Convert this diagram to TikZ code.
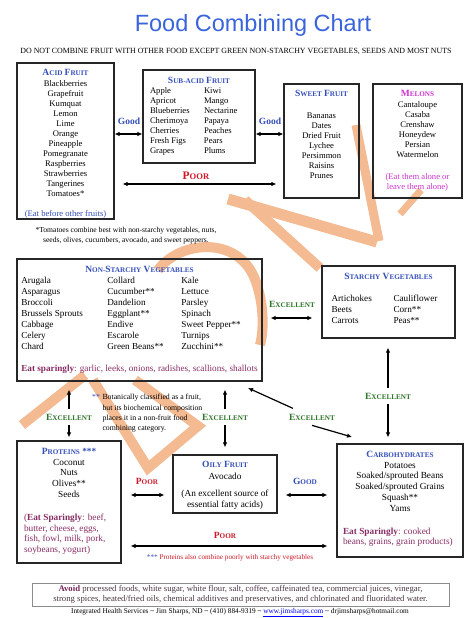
\documentclass[tikz,border=0pt]{standalone}
\usepackage{fontspec}
\setmainfont{Liberation Serif}
\newfontfamily\headfont{Liberation Sans}
\usepackage{xcolor}
\usetikzlibrary{positioning,arrows.meta,calc}

\definecolor{ttlblue}{RGB}{58,100,220}
\definecolor{hdblue}{RGB}{52,78,185}
\definecolor{poorred}{RGB}{205,25,40}
\definecolor{exgreen}{RGB}{45,115,40}
\definecolor{melmag}{RGB}{205,50,205}
\definecolor{eatpurp}{RGB}{135,45,100}
\definecolor{avoidtxt}{RGB}{75,55,65}
\definecolor{wmark}{RGB}{244,186,146}

\newcommand{\smcap}[2]{{\fontsize{9.5}{10}\selectfont #1}{\fontsize{7.2}{10}\selectfont #2}}
\newcommand{\poorcap}[2]{{\fontsize{11.5}{12}\selectfont #1}{\fontsize{8.6}{12}\selectfont #2}}
\newcommand{\boxhead}[1]{{\bfseries\color{hdblue}#1}}

\begin{document}
\begin{tikzpicture}[x=1pt, y=-1pt, every node/.style={inner sep=0pt},
  fbox/.style={draw=black!85, line width=1.1pt, inner sep=0pt},
  ftxt/.style={anchor=north, align=center},
  fruitsz/.style={font=\fontsize{8.6}{10}\selectfont},
  vegsz/.style={font=\fontsize{9.2}{11}\selectfont},
  mainsz/.style={font=\fontsize{9.3}{10.8}\selectfont},
  lbl/.style={font=\bfseries, inner xsep=2pt, inner ysep=5pt},
  goodlbl/.style={lbl, font=\fontsize{9.5}{10}\selectfont\bfseries, text=hdblue},
  exlbl/.style={lbl, text=exgreen},
  poorlbl/.style={lbl, text=poorred},
  dbl/.style={{Latex[length=5pt,width=4.5pt]}-{Latex[length=5pt,width=4.5pt]}, line width=1.2pt},
  tip/.style={-{Latex[length=5pt,width=4.5pt]}, line width=1.2pt},
  wm/.style={draw=wmark, line width=11pt}]

  \fill[white] (0,0) rectangle (474,618);
  \useasboundingbox (0,0) rectangle (474,618);

  % watermark
  \draw[wm] (228,199) -- (377,242);
  \draw[wm, line width=9pt] (356,125) -- (379,241);
  \draw[wm, line width=7pt] (400,214) -- (421,190);
  \draw[wm, line width=10pt] (245,200) -- (320,268);
  \draw[wm, line width=10pt] (158,270) .. controls (180,240) and (240,235) .. (256,282)
    .. controls (264,305) and (264,330) .. (260,345);
  \draw[wm, line width=10pt] (22,425) -- (85,375);
  \draw[wm, line width=10pt] (93,380) -- (148,468) -- (198,426) -- (135,380);

  \node[font=\headfont\fontsize{23.5}{26}\selectfont, text=ttlblue] (title) at (253,25)
    {Food Combining Chart};
  \node[font=\fontsize{7.9}{9}\selectfont] (subtitle) at (236,51)
    {DO NOT COMBINE FRUIT WITH OTHER FOOD EXCEPT GREEN NON-STARCHY VEGETABLES, SEEDS AND MOST NUTS};

  % fruit row
  \node[fbox, minimum width=97pt, minimum height=156pt] (acid) at (65.5,141) {};
  \node[ftxt, fruitsz] (acid-t) at (65.5,68.8)
    {\boxhead{\smcap{A}{CID} \smcap{F}{RUIT}}\\[1pt]
     Blackberries\\Grapefruit\\Kumquat\\Lemon\\Lime\\Orange\\Pineapple\\Pomegranate\\
     Raspberries\\Strawberries\\Tangerines\\Tomatoes*\\[10pt]
     \textcolor{hdblue}{(Eat before other fruits)}};

  \node[fbox, minimum width=112pt, minimum height=93pt] (subacid) at (199,116.5) {};
  \node[ftxt, fruitsz] (subacid-t) at (199,76.8)
    {\boxhead{\smcap{S}{UB-ACID} \smcap{F}{RUIT}}\\
     \begin{tabular}[t]{@{}p{54pt}@{}p{44pt}@{}}
       Apple & Kiwi\\ Apricot & Mango\\ Blueberries & Nectarine\\ Cherimoya & Papaya\\
       Cherries & Peaches\\ Fresh Figs & Pears\\ Grapes & Plums
     \end{tabular}};

  \node[fbox, minimum width=75pt, minimum height=114pt] (sweet) at (321.5,141) {};
  \node[ftxt, fruitsz] (sweet-t) at (321.5,89.8)
    {\boxhead{\smcap{S}{WEET} \smcap{F}{RUIT}}\\[12pt]
     Bananas\\Dates\\Dried Fruit\\Lychee\\Persimmon\\Raisins\\Prunes};

  \node[fbox, minimum width=89pt, minimum height=114pt] (melons) at (417.5,141) {};
  \node[ftxt, fruitsz] (melons-t) at (417.5,89.8)
    {\textcolor{melmag}{\bfseries\smcap{M}{ELONS}}\\[1pt]
     Cantaloupe\\Casaba\\Crenshaw\\Honeydew\\Persian\\Watermelon\\[12pt]
     \textcolor{melmag}{(Eat them alone or}\\\textcolor{melmag}{leave them alone)}};

  \coordinate (rowgood) at (0,134);
  \coordinate (rowpoor) at (0,184);
  \node[goodlbl] (good1) at (129,121) {Good};
  \node[goodlbl] (good2) at (270,121) {Good};
  \node[poorlbl] (poor1) at (196,176) {\poorcap{P}{OOR}};
  \draw[dbl] (acid.east |- rowgood) -- (subacid.west |- rowgood);
  \draw[dbl] (subacid.east |- rowgood) -- (sweet.west |- rowgood);
  \draw[dbl, shorten <=8pt, shorten >=7pt] (acid.east |- rowpoor) -- (sweet.west |- rowpoor);

  \node[font=\fontsize{7.6}{10}\selectfont, align=center] (tomnote) at (126,236)
    {*Tomatoes combine best with non-starchy vegetables, nuts,\\
     seeds, olives, cucumbers, avocado, and sweet peppers.};

  % vegetables
  \node[fbox, minimum width=245pt, minimum height=122pt] (veg) at (139.5,320) {};
  \node[ftxt, vegsz] (veg-t) at (139.5,265.8)
    {\boxhead{\smcap{N}{ON-}\smcap{S}{TARCHY} \smcap{V}{EGETABLES}}\\
     \begin{tabular}[t]{@{}p{86pt}@{}p{74pt}@{}p{70pt}@{}}
       Arugala & Collard & Kale\\
       Asparagus & Cucumber** & Lettuce\\
       Broccoli & Dandelion & Parsley\\
       Brussels Sprouts & Eggplant** & Spinach\\
       Cabbage & Endive & Sweet Pepper**\\
       Celery & Escarole & Turnips\\
       Chard & Green Beans** & Zucchini**\\[11pt]
       \multicolumn{3}{@{}l@{}}{\textcolor{eatpurp}{\textbf{Eat sparingly}: garlic, leeks, onions, radishes, scallions, shallots}}
     \end{tabular}};

  \node[fbox, minimum width=133pt, minimum height=72pt] (starchy) at (388.5,302) {};
  \node[ftxt, vegsz] (starchy-t) at (388.5,272.8)
    {\boxhead{\smcap{S}{TARCHY} \smcap{V}{EGETABLES}}\\[11pt]
     \begin{tabular}[t]{@{}p{62pt}@{}p{52pt}@{}}
       Artichokes & Cauliflower\\ Beets & Corn**\\ Carrots & Peas**
     \end{tabular}};

  \coordinate (rowex) at (0,318);
  \node[exlbl] (ex1) at (292,304) {\smcap{E}{XCELLENT}};
  \draw[dbl, shorten <=8pt, shorten >=9pt] (veg.east |- rowex) -- (starchy.west |- rowex);

  \node[font=\fontsize{7.8}{10.3}\selectfont, anchor=north west] (botnote) at (92,392.5)
    {\begin{tabular}{@{}l@{\hspace{2.5pt}}l@{}}
       \textcolor{hdblue}{**} & Botanically classified as a fruit,\\
       & but its biochemical composition\\
       & places it in a non-fruit food\\
       & combining category.
     \end{tabular}};

  % bottom row
  \node[fbox, minimum width=104pt, minimum height=122pt] (prot) at (69,502) {};
  \node[ftxt, mainsz] (prot-t) at (69,447.8)
    {\boxhead{\smcap{P}{ROTEINS} ***}\\
     Coconut\\Nuts\\Olives**\\Seeds\\[12pt]
     \makebox[90pt][l]{\textcolor{eatpurp}{(\textbf{Eat Sparingly}: beef,}}\\
     \makebox[90pt][l]{\textcolor{eatpurp}{butter, cheese, eggs,}}\\
     \makebox[90pt][l]{\textcolor{eatpurp}{fish, fowl, milk, pork,}}\\
     \makebox[90pt][l]{\textcolor{eatpurp}{soybeans, yogurt)}}};

  \node[fbox, minimum width=104pt, minimum height=58pt] (oily) at (225,484) {};
  \node[ftxt, mainsz] (oily-t) at (225,460.8)
    {\boxhead{\smcap{O}{ILY} \smcap{F}{RUIT}}\\[1pt]
     Avocado\\[7pt]
     (An excellent source of\\essential fatty acids)};

  \node[fbox, minimum width=126pt, minimum height=113pt] (carb) at (400,500.5) {};
  \node[ftxt, mainsz] (carb-t) at (400,450.8)
    {\boxhead{\smcap{C}{ARBOHYDRATES}}\\
     Potatoes\\Soaked/sprouted Beans\\Soaked/sprouted Grains\\Squash**\\Yams\\[12pt]
     \makebox[114pt][l]{\textcolor{eatpurp}{\textbf{Eat Sparingly}: cooked}}\\
     \makebox[114pt][l]{\textcolor{eatpurp}{beans, grains, grain products)}}};

  \node[exlbl] (ex2) at (388,396) {\smcap{E}{XCELLENT}};
  \draw[tip, shorten >=9pt] (ex2.north) -- (starchy.south -| ex2.north);
  \draw[tip, shorten >=6pt] (ex2.south) -- (carb.north -| ex2.south);

  \node[exlbl] (ex3) at (69,417) {\smcap{E}{XCELLENT}};
  \draw[tip, shorten >=8pt] (ex3.north) -- (veg.south -| ex3.north);
  \draw[tip, shorten >=3pt] (ex3.south) -- (prot.north);

  \node[exlbl] (ex4) at (225,417) {\smcap{E}{XCELLENT}};
  \draw[tip, shorten >=8pt] (ex4.north) -- (veg.south -| ex4.north);
  \draw[tip, shorten >=7pt] (ex4.south) -- (oily.north);

  \node[exlbl] (ex5) at (312,417) {\smcap{E}{XCELLENT}};
  \coordinate (vegend) at (248,388);
  \coordinate (carbend) at (352,437);
  \draw[tip, shorten <=21pt] (ex5.center) -- (vegend);
  \draw[tip] (ex5.south) -- (carbend);

  \coordinate (rowlow) at (0,495);
  \coordinate (rowbot) at (0,546);
  \node[poorlbl] (poor2) at (147,481) {\smcap{P}{OOR}};
  \node[goodlbl] (good3) at (305,481) {\smcap{G}{OOD}};
  \node[poorlbl] (poor3) at (225,535) {\smcap{P}{OOR}};
  \draw[dbl, shorten <=9pt, shorten >=8pt] (prot.east |- rowlow) -- (oily.west |- rowlow);
  \draw[dbl, shorten <=8pt, shorten >=9pt] (oily.east |- rowlow) -- (carb.west |- rowlow);
  \draw[dbl, shorten <=9pt, shorten >=9pt] (prot.east |- rowbot) -- (carb.west |- rowbot);

  \node[font=\fontsize{7.2}{9}\selectfont] (protnote) at (230,558)
    {\textcolor{hdblue}{***} \textcolor{poorred}{Proteins also combine poorly with starchy vegetables}};

  % footer
  \node[draw=black!45, line width=0.8pt, minimum width=417pt, minimum height=23pt,
        align=center, font=\fontsize{8.7}{10}\selectfont, text=avoidtxt] (avoid) at (240.5,594.5)
    {\textcolor{eatpurp!85!black}{\textbf{Avoid}} processed foods, white sugar, white flour, salt, coffee, caffeinated tea, commercial juices, vinegar,\\
     strong spices, heated/fried oils, chemical additives and preservatives, and chlorinated and fluoridated water.};
  \node[font=\fontsize{7.3}{9}\selectfont] (footer) at (240,612.5)
    {Integrated Health Services \textasciitilde{} Jim Sharps, ND \textasciitilde{} (410) 884-9319 \textasciitilde{}
     \textcolor{blue}{\underline{www.jimsharps.com}} \textasciitilde{} drjimsharps@hotmail.com};
\end{tikzpicture}
\end{document}
